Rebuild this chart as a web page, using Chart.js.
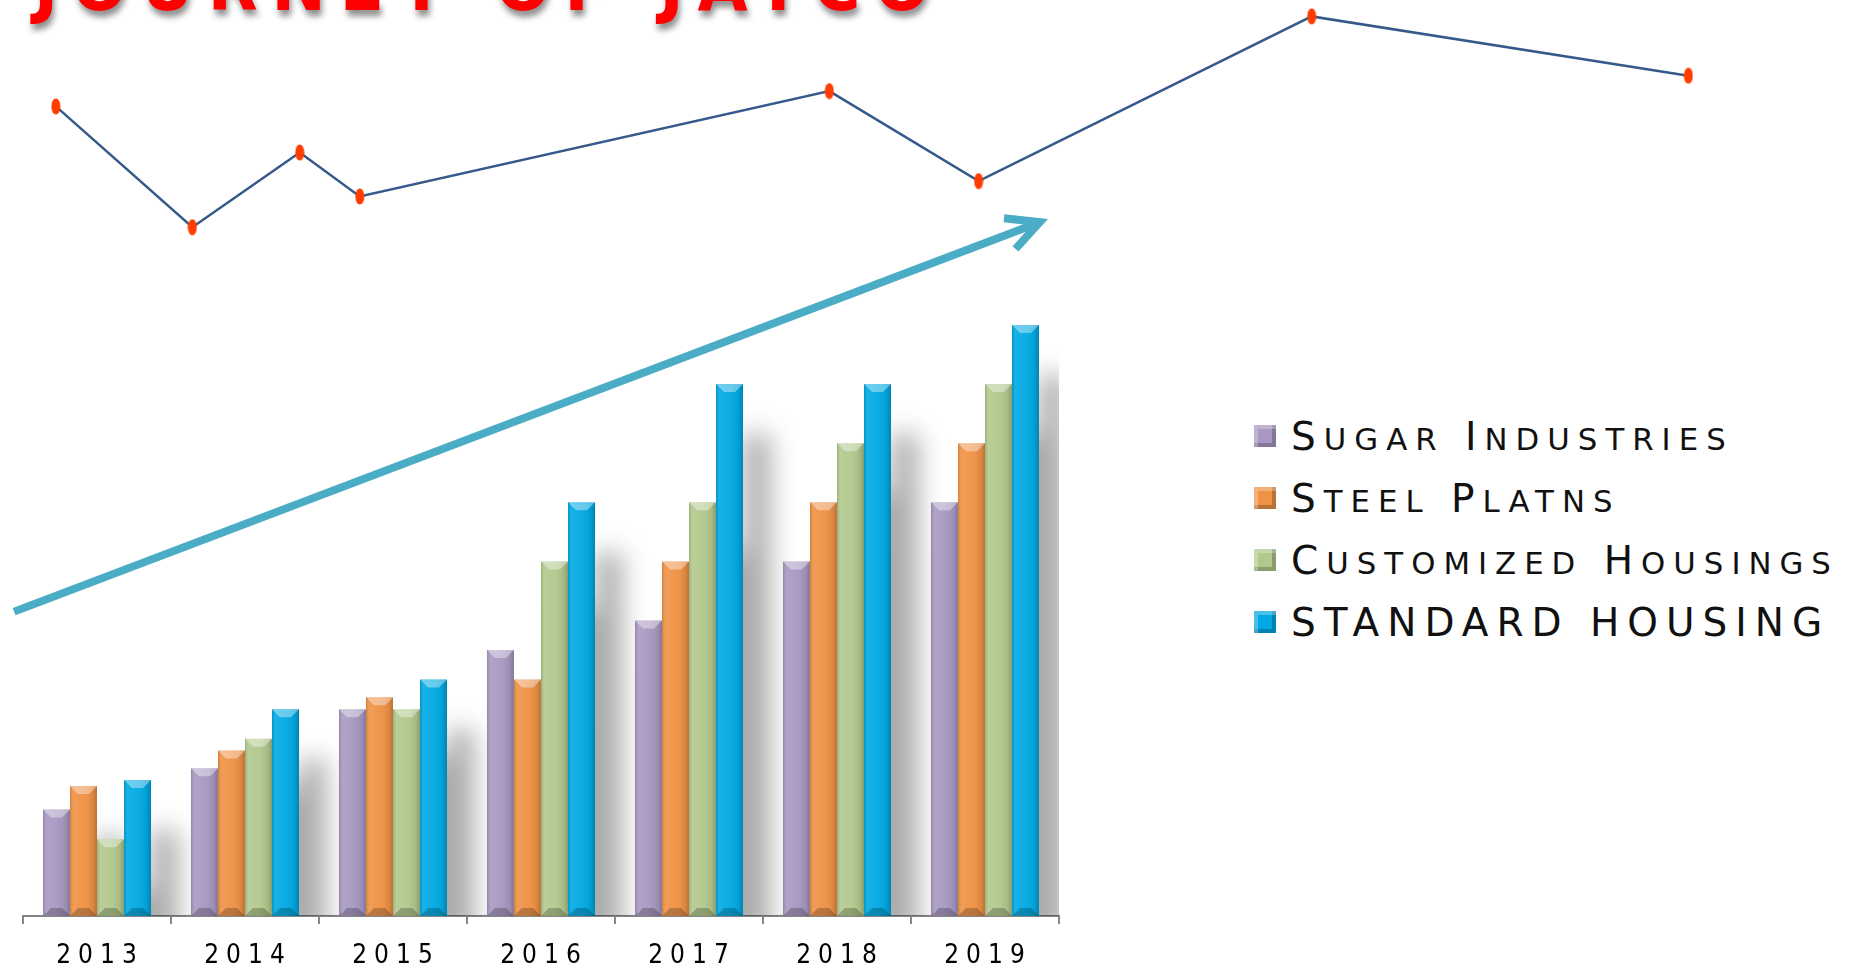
<!DOCTYPE html>
<html>
<head>
<meta charset="utf-8">
<title>Journey of Jayco</title>
<script src="https://cdn.jsdelivr.net/npm/chart.js@4.4.1/dist/chart.umd.min.js"></script>
<style>
  html, body { margin: 0; padding: 0; background: #fff; width: 1854px; height: 972px; overflow: hidden; }
  #trendChart { position: absolute; left: 0; top: -34px; }
  #barChart { position: absolute; left: 0; top: 0; }
  #legend { position: absolute; left: 1254px; top: 405px; }
  .legend-item {
    display: flex; align-items: center; height: 62px;
    font-family: 'DejaVu Sans', sans-serif; font-size: 39px;
    letter-spacing: 8px; color: #111; white-space: nowrap;
  }
  .legend-item .sc { font-size: 0.79em; text-transform: uppercase; }
  .legend-box {
    width: 22px; height: 22px; margin-right: 15px; flex: none;
    box-shadow: inset 4px 4px 0 rgba(255,255,255,0.28), inset -4px -4px 0 rgba(0,0,0,0.22);
  }
</style>
</head>
<body>
<canvas id="trendChart" width="1854" height="270"></canvas>
<canvas id="barChart" width="1080" height="992"></canvas>
<div id="legend"></div>

<script>
// Годы и ряды для столбцов
const years = ['2013', '2014', '2015', '2016', '2017', '2018', '2019'];
const seriesNames = ['Sugar Industries', 'Steel Platns', 'Customized Housings', 'STANDARD HOUSING'];
const sugarValues = [1.8, 2.5, 3.5, 4.5, 5, 6, 7];
const steelValues = [2.2, 2.8, 3.7, 4, 6, 7, 8];
const customizedValues = [1.3, 3, 3.5, 6, 7, 8, 9];
const standardValues = [2.3, 3.5, 4, 7, 9, 9, 10];
const seriesColors = ['#a898c2', '#ef9246', '#b2c98d', '#00a9e3'];

// Линия роста сверху
const trendX = [1.2, 8.7, 14.6, 17.9, 43.7, 51.9, 70.2, 90.9];
const trendY = [59, 4, 38, 18, 66, 25, 100, 73];

// Стрелка тренда (в единицах осей столбцовой диаграммы)
const arrowFrom = [-0.56, 5.15];
const arrowTo = [6.37, 11.74];

const titleText = 'JOURNEY OF JAYCO';

// Маркер-эллипс для точек линии
function makeDot() {
  const c = document.createElement('canvas');
  c.width = 10;
  c.height = 17;
  const g = c.getContext('2d');
  g.fillStyle = '#ff3d00';
  g.beginPath();
  g.ellipse(5, 8.5, 4.5, 8, 0, 0, Math.PI * 2);
  g.fill();
  return c;
}

// Тень и разрядка для заголовка
const titleStyle = {
  id: 'titleStyle',
  beforeDraw(chart) {
    const ctx = chart.ctx;
    ctx.letterSpacing = '14px';
    ctx.shadowColor = 'rgba(0, 0, 0, 0.45)';
    ctx.shadowBlur = 6;
    ctx.shadowOffsetX = 2;
    ctx.shadowOffsetY = 6;
  },
  beforeDatasetsDraw(chart) {
    const ctx = chart.ctx;
    ctx.letterSpacing = '0px';
    ctx.shadowColor = 'rgba(0, 0, 0, 0)';
    ctx.shadowBlur = 0;
    ctx.shadowOffsetX = 0;
    ctx.shadowOffsetY = 0;
  }
};

const trendChart = new Chart(document.getElementById('trendChart'), {
  type: 'line',
  data: {
    datasets: [{
      data: trendX.map((x, i) => ({ x: x, y: trendY[i] })),
      borderColor: '#34598a',
      borderWidth: 2.5,
      tension: 0,
      pointStyle: makeDot(),
      pointRadius: 6,
      clip: false
    }]
  },
  options: {
    responsive: false,
    animation: false,
    layout: { autoPadding: false, padding: { left: 34, right: 0, top: 0, bottom: 0 } },
    scales: {
      x: { type: 'linear', min: 0, max: 100, display: false },
      y: { min: 0, max: 100, display: false }
    },
    plugins: {
      legend: { display: false },
      tooltip: { enabled: false },
      title: {
        display: true,
        text: titleText,
        align: 'start',
        color: '#ff0000',
        padding: { top: 0, bottom: 0 },
        font: { family: "'DejaVu Sans Condensed', 'DejaVu Sans'", size: 72, weight: 'bold', lineHeight: 0.7 }
      }
    }
  },
  plugins: [titleStyle]
});

// Разрядка подписей оси
const tickSpacing = {
  id: 'tickSpacing',
  beforeDraw(chart) { chart.ctx.letterSpacing = '7px'; },
  afterDraw(chart) { chart.ctx.letterSpacing = '0px'; }
};

function barRects(chart) {
  const rects = [];
  chart.data.datasets.forEach((ds, i) => {
    chart.getDatasetMeta(i).data.forEach(bar => {
      const p = bar.getProps(['x', 'y', 'base', 'width'], true);
      rects.push({ l: p.x - p.width / 2, r: p.x + p.width / 2, t: p.y, b: p.base, w: p.width });
    });
  });
  return rects;
}

// Размытая тень позади столбцов
const barShadow = {
  id: 'barShadow',
  beforeDatasetsDraw(chart) {
    const ctx = chart.ctx;
    const area = chart.chartArea;
    ctx.save();
    ctx.beginPath();
    ctx.rect(area.left, area.top, area.right - area.left, area.bottom - area.top);
    ctx.clip();
    ctx.filter = 'blur(13px)';
    ctx.fillStyle = 'rgba(0, 0, 0, 0.33)';
    ctx.beginPath();
    barRects(chart).forEach(r => {
      ctx.rect(r.l + 27, r.t + 50, r.w, r.b - r.t - 30);
    });
    ctx.fill();
    ctx.restore();
  }
};

// Фаски на столбцах
const barBevel = {
  id: 'barBevel',
  afterDatasetsDraw(chart) {
    const ctx = chart.ctx;
    ctx.save();
    barRects(chart).forEach(r => {
      const bev = Math.min(8, r.w / 3);
      const g = ctx.createLinearGradient(r.l, 0, r.r, 0);
      g.addColorStop(0, 'rgba(0,0,0,0.12)');
      g.addColorStop(0.12, 'rgba(255,255,255,0.10)');
      g.addColorStop(0.5, 'rgba(255,255,255,0.04)');
      g.addColorStop(0.85, 'rgba(0,0,0,0.08)');
      g.addColorStop(1, 'rgba(0,0,0,0.22)');
      ctx.fillStyle = g;
      ctx.fillRect(r.l, r.t, r.w, r.b - r.t);

      ctx.fillStyle = 'rgba(255,255,255,0.38)';
      ctx.beginPath();
      ctx.moveTo(r.l, r.t);
      ctx.lineTo(r.r, r.t);
      ctx.lineTo(r.r - bev, r.t + bev);
      ctx.lineTo(r.l + bev, r.t + bev);
      ctx.closePath();
      ctx.fill();

      ctx.fillStyle = 'rgba(0,0,0,0.22)';
      ctx.beginPath();
      ctx.moveTo(r.l, r.b);
      ctx.lineTo(r.r, r.b);
      ctx.lineTo(r.r - bev, r.b - bev);
      ctx.lineTo(r.l + bev, r.b - bev);
      ctx.closePath();
      ctx.fill();
    });
    ctx.restore();
  }
};

// Стрелка тренда поверх графика
const trendArrow = {
  id: 'trendArrow',
  afterDraw(chart) {
    const xs = chart.scales.x, ys = chart.scales.y;
    const x0 = xs.getPixelForValue(arrowFrom[0]), y0 = ys.getPixelForValue(arrowFrom[1]);
    const x1 = xs.getPixelForValue(arrowTo[0]), y1 = ys.getPixelForValue(arrowTo[1]);
    const ang = Math.atan2(y1 - y0, x1 - x0);
    const arm = 36, spread = 27 * Math.PI / 180;
    const ctx = chart.ctx;
    ctx.save();
    ctx.strokeStyle = '#4bacc6';
    ctx.lineWidth = 8;
    ctx.lineCap = 'butt';
    ctx.lineJoin = 'miter';
    ctx.beginPath();
    ctx.moveTo(x0, y0);
    ctx.lineTo(x1, y1);
    ctx.stroke();
    ctx.beginPath();
    ctx.moveTo(x1 - arm * Math.cos(ang - spread), y1 - arm * Math.sin(ang - spread));
    ctx.lineTo(x1, y1);
    ctx.lineTo(x1 - arm * Math.cos(ang + spread), y1 - arm * Math.sin(ang + spread));
    ctx.stroke();
    ctx.restore();
  }
};

const seriesValues = [sugarValues, steelValues, customizedValues, standardValues];

const barChart = new Chart(document.getElementById('barChart'), {
  type: 'bar',
  data: {
    labels: years,
    datasets: seriesNames.map((name, i) => ({
      label: name,
      data: seriesValues[i],
      backgroundColor: seriesColors[i],
      borderWidth: 0,
      categoryPercentage: 0.73,
      barPercentage: 1.0
    }))
  },
  options: {
    responsive: false,
    animation: false,
    layout: { autoPadding: false, padding: { left: 23, right: 21, top: 88.6, bottom: 2.8 } },
    scales: {
      x: {
        grid: {
          offset: true,
          drawOnChartArea: false,
          drawTicks: true,
          tickLength: 8,
          color: '#858585',
          lineWidth: 2
        },
        border: { display: true, color: '#858585', width: 2 },
        ticks: {
          color: '#000',
          padding: 17,
          labelOffset: 3,
          font: { family: "'DejaVu Sans Condensed', 'DejaVu Sans'", size: 26, lineHeight: 1.2 }
        }
      },
      y: { display: false, min: 0, max: 14 }
    },
    plugins: {
      legend: { display: false },
      tooltip: { enabled: false }
    }
  },
  plugins: [tickSpacing, barShadow, barBevel, trendArrow]
});

// Легенда справа: строчные буквы выводятся капителью
const legendEl = document.getElementById('legend');
barChart.data.datasets.forEach(ds => {
  const item = document.createElement('div');
  item.className = 'legend-item';
  const box = document.createElement('span');
  box.className = 'legend-box';
  box.style.background = ds.backgroundColor;
  const label = document.createElement('span');
  ds.label.match(/[a-z]+|[^a-z]+/g).forEach(part => {
    const s = document.createElement('span');
    if (/[a-z]/.test(part)) s.className = 'sc';
    s.textContent = part;
    label.appendChild(s);
  });
  item.appendChild(box);
  item.appendChild(label);
  legendEl.appendChild(item);
});
</script>
</body>
</html>
